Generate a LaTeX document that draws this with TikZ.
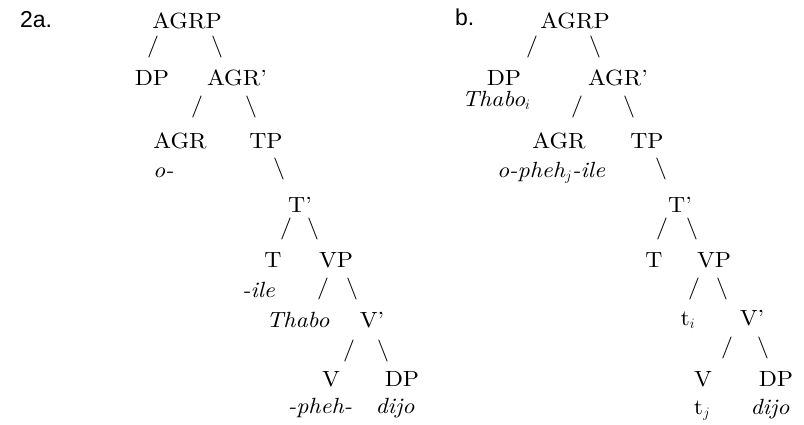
\documentclass[tikz,border=0pt]{standalone}
\usepackage{fontspec}
\setmainfont{lmroman10-regular.otf}[ItalicFont=lmroman10-italic.otf,FakeStretch=1.08]
\newfontfamily\labfont{Liberation Sans}
\begin{document}
\begin{tikzpicture}[x=1pt,y=-1pt,
  every node/.style={inner sep=0pt,outer sep=0pt,font=\fontsize{22}{26}\selectfont},
  cat/.style={anchor=base},
  lex/.style={anchor=base,font=\fontsize{22}{26}\selectfont\itshape},
  lexl/.style={anchor=base west,font=\fontsize{22}{26}\selectfont\itshape},
  sl/.style={anchor=center},
  lab/.style={anchor=base west,font=\fontsize{23}{27}\selectfont\labfont}]
\useasboundingbox (0,0) rectangle (804,424);
% ---------- tree a ----------
\node[lab] (la) at (20,27) {2a.};
\node[cat] (aAGRP) at (187,28) {AGRP};
\node[sl] (as1) at (153,47) {/};
\node[sl] (as2) at (217,47) {\textbackslash};
\node[cat] (aDP) at (152,85) {DP};
\node[cat] (aAGRb) at (237,85) {AGR'};
\node[sl] (as3) at (197,107) {/};
\node[sl] (as4) at (251,107) {\textbackslash};
\node[cat] (aAGR) at (180,148) {AGR};
\node[cat] (aTP) at (266,148) {TP};
\node[lexl] (ao) at (153,177) {o-};
\node[sl] (as5) at (279,169) {\textbackslash};
\node[cat] (aTb) at (300,212) {T'};
\node[sl] (as6) at (286,229) {/};
\node[sl] (as7) at (313,229) {\textbackslash};
\node[cat] (aT) at (273,267) {T};
\node[cat] (aVP) at (336,267) {VP};
\node[lexl] (aile) at (242,297) {-ile};
\node[sl] (as8) at (323,289) {/};
\node[sl] (as9) at (352,289) {\textbackslash};
\node[lex] (aThabo) at (298,327) {Thabo};
\node[cat] (aVb) at (372,327) {V'};
\node[sl] (as10) at (349,351) {/};
\node[sl] (as11) at (383,351) {\textbackslash};
\node[cat] (aV) at (331,386) {V};
\node[cat] (aDP2) at (402,386) {DP};
\node[lex] (apheh) at (320,413) {-pheh-};
\node[lex] (adijo) at (395,413) {dijo};
% ---------- tree b ----------
\node[lab] (lb) at (455,25) {b.};
\node[cat] (bAGRP) at (575,28) {AGRP};
\node[sl] (bs1) at (532,47) {/};
\node[sl] (bs2) at (595,47) {\textbackslash};
\node[cat] (bDP) at (504,85) {DP};
\node[cat] (bAGRb) at (618,85) {AGR'};
\node[lexl] (bThabo) at (462,106) {Thabo$_i$};
\node[sl] (bs3) at (577,107) {/};
\node[sl] (bs4) at (629,107) {\textbackslash};
\node[cat] (bAGR) at (559,148) {AGR};
\node[cat] (bTP) at (647,148) {TP};
\node[lexl] (bopheh) at (497,177) {o-pheh$_j$-ile};
\node[sl] (bs5) at (661,169) {\textbackslash};
\node[cat] (bTb) at (680,212) {T'};
\node[sl] (bs6) at (662,229) {/};
\node[sl] (bs7) at (692,229) {\textbackslash};
\node[cat] (bT) at (654,267) {T};
\node[cat] (bVP) at (714,267) {VP};
\node[sl] (bs8) at (694,289) {/};
\node[sl] (bs9) at (722,289) {\textbackslash};
\node[cat] (bti) at (688,325) {t$_i$};
\node[cat] (bVb) at (752,325) {V'};
\node[sl] (bs10) at (727,348) {/};
\node[sl] (bs11) at (763,348) {\textbackslash};
\node[cat] (bV) at (703,386) {V};
\node[cat] (bDP2) at (776,386) {DP};
\node[cat] (btj) at (702,414) {t$_j$};
\node[lex] (bdijo) at (770,414) {dijo};
\end{tikzpicture}
\end{document}
